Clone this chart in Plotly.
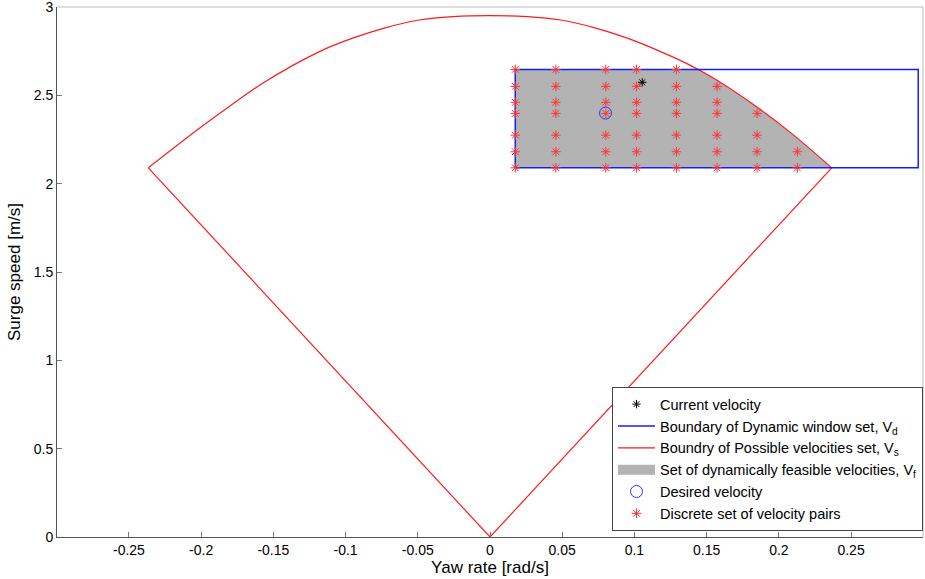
import numpy as np
import plotly.graph_objects as go

# Boundary of the possible velocities set V_s (yaw rate [rad/s], surge speed [m/s])
sector_left = (-0.2366, 2.09)
sector_right = (0.2366, 2.09)
sector_apex = (0.0, 0.0)
arc_yaw = [-0.2366, -0.2035, -0.1805, -0.1574, -0.1181, -0.0951, -0.0720, -0.0489,
           -0.0258, 0.0, 0.0258, 0.0489, 0.0720, 0.0951, 0.1181, 0.1381, 0.1566,
           0.1843, 0.2073, 0.2366]
arc_surge = [2.09, 2.30, 2.437, 2.569, 2.748, 2.824, 2.884, 2.927,
             2.946, 2.952, 2.946, 2.927, 2.884, 2.824, 2.748, 2.673, 2.588,
             2.437, 2.295, 2.09]

# Dynamic window V_d (rectangle bounds)
window_yaw = [0.0175, 0.2965]
window_surge = [2.09, 2.647]

# Discrete velocity pairs: yaw levels, surge levels, and number of
# feasible surge levels (counted from the bottom) for each yaw level
pair_yaw_levels = [0.0175, 0.0456, 0.0802, 0.1015, 0.1291, 0.1572, 0.1849, 0.2128]
pair_surge_levels = [2.090, 2.181, 2.275, 2.398, 2.461, 2.551, 2.647]
pair_counts = [7, 7, 7, 7, 7, 6, 4, 2]

current_velocity = (0.1054, 2.574)
desired_velocity = (0.080, 2.400)

x_ticks = [-0.25, -0.2, -0.15, -0.1, -0.05, 0, 0.05, 0.1, 0.15, 0.2, 0.25]
x_tick_text = ["-0.25", "-0.2", "-0.15", "-0.1", "-0.05", "0", "0.05", "0.1", "0.15", "0.2", "0.25"]
y_ticks = [0, 0.5, 1, 1.5, 2, 2.5, 3]
y_tick_text = ["0", "0.5", "1", "1.5", "2", "2.5", "3"]

FONT = "Liberation Sans, Arial, sans-serif"
GRAY = "#b3b3b3"

fig = go.Figure()

# Dynamically feasible set V_f = V_d ∩ V_s
arc_x = np.array(arc_yaw)
arc_y = np.array(arc_surge)
right_half = arc_x > 0
rx, ry = arc_x[right_half], arc_y[right_half]
# arc crossing of the window top edge (right branch is decreasing)
x_cross = float(np.interp(window_surge[1], ry[::-1], rx[::-1]))
keep = ry < window_surge[1]
feas_x = [window_yaw[0], window_yaw[0], x_cross] + list(rx[keep]) + [window_yaw[0]]
feas_y = [window_surge[0], window_surge[1], window_surge[1]] + list(ry[keep]) + [window_surge[0]]
fig.add_trace(go.Scatter(
    x=feas_x, y=feas_y, mode="lines", fill="toself",
    fillcolor=GRAY, line=dict(width=0, color=GRAY),
    showlegend=False, legendgroup="vf",
))
# legend swatch for the feasible set
fig.add_trace(go.Scatter(
    x=[None], y=[None], mode="lines", line=dict(color=GRAY, width=12),
    name="Set of dynamically feasible velocities, V<sub>f</sub>",
    legendgroup="vf", legendrank=4,
))

# V_s boundary: two straight edges plus the smooth arc
fig.add_trace(go.Scatter(
    x=[sector_left[0], sector_apex[0], sector_right[0]],
    y=[sector_left[1], sector_apex[1], sector_right[1]],
    mode="lines", line=dict(color="#ff1a1a", width=1.2),
    name="Boundry of Possible velocities set, V<sub>s</sub>",
    legendgroup="vs", legendrank=3,
))
fig.add_trace(go.Scatter(
    x=arc_yaw, y=arc_surge, mode="lines",
    line=dict(color="#ff1a1a", width=1.2, shape="spline", smoothing=0.9),
    legendgroup="vs", showlegend=False,
))

# V_d boundary
wx = [window_yaw[0], window_yaw[1], window_yaw[1], window_yaw[0], window_yaw[0]]
wy = [window_surge[0], window_surge[0], window_surge[1], window_surge[1], window_surge[0]]
fig.add_trace(go.Scatter(
    x=wx, y=wy, mode="lines", line=dict(color="#1a1aff", width=1.5),
    name="Boundary of Dynamic window set, V<sub>d</sub>", legendrank=2,
))

# Discrete velocity pairs
px, py = [], []
for yaw, n in zip(pair_yaw_levels, pair_counts):
    for s in pair_surge_levels[:n]:
        px.append(yaw)
        py.append(s)
fig.add_trace(go.Scatter(
    x=px, y=py, mode="markers",
    marker=dict(symbol="asterisk-open", size=8, color="#ff3333",
                line=dict(color="#ff3333", width=1)),
    name="Discrete set of velocity pairs", legendrank=6,
))

# Desired velocity
fig.add_trace(go.Scatter(
    x=[desired_velocity[0]], y=[desired_velocity[1]], mode="markers",
    marker=dict(symbol="circle-open", size=12, color="#3030ff",
                line=dict(color="#3030ff", width=1)),
    name="Desired velocity", legendrank=5,
))

# Current velocity
fig.add_trace(go.Scatter(
    x=[current_velocity[0]], y=[current_velocity[1]], mode="markers",
    marker=dict(symbol="asterisk-open", size=7, color="#000000",
                line=dict(color="#000000", width=1)),
    name="Current velocity", legendrank=1,
))

axis_common = dict(
    showgrid=False, zeroline=False, showline=True, linecolor="#555555", linewidth=1,
    ticks="inside", ticklen=5, tickcolor="#777777", tickwidth=1,
    tickfont=dict(family=FONT, size=14, color="#000000"),
    ticklabeloverflow="allow", mirror=False, automargin=False,
)

fig.update_xaxes(
    range=[-0.2998, 0.2998], tickvals=x_ticks, ticktext=x_tick_text,
    title=dict(text="Yaw rate [rad/s]", font=dict(family=FONT, size=17, color="#000000"), standoff=3),
    **axis_common,
)
fig.update_yaxes(
    range=[0, 3.0005], tickvals=y_ticks, ticktext=y_tick_text,
    title=dict(text="Surge speed [m/s]", font=dict(family=FONT, size=17, color="#000000"), standoff=8),
    **axis_common,
)

# Top and right box edges
fig.add_shape(type="line", xref="paper", yref="paper", x0=0, x1=1, y0=1, y1=1,
              line=dict(color="#bdbdbd", width=1))
fig.add_shape(type="line", xref="paper", yref="paper", x0=1, x1=1, y0=0, y1=1,
              line=dict(color="#bdbdbd", width=1))

fig.update_layout(
    width=925, height=579,
    margin=dict(l=57, r=2, t=7, b=42),
    paper_bgcolor="#ffffff", plot_bgcolor="#ffffff",
    font=dict(family=FONT, size=14.5, color="#000000"),
    showlegend=True,
    legend=dict(
        x=1, y=0.011, xanchor="right", yanchor="bottom",
        bgcolor="#ffffff", bordercolor="#444444", borderwidth=1,
        font=dict(family=FONT, size=14.5, color="#000000"),
        tracegroupgap=0, itemwidth=37,
    ),
)

fig.write_html("out.html")
